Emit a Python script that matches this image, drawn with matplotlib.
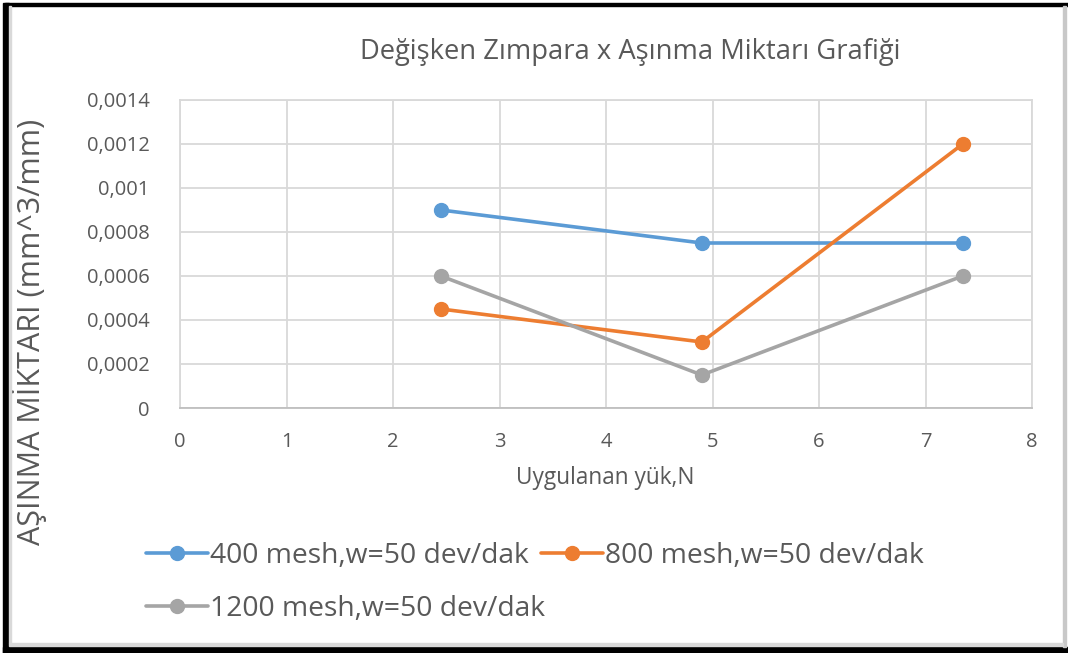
import matplotlib
matplotlib.use("Agg")
import matplotlib.pyplot as plt
from matplotlib.patches import Rectangle
from matplotlib.ticker import FuncFormatter

plt.rcParams['font.family'] = ['Open Sans', 'DejaVu Sans']

x_load = [2.45, 4.9, 7.35]
s400 = [0.0009, 0.00075, 0.00075]
s800 = [0.00045, 0.0003, 0.0012]
s1200 = [0.0006, 0.00015, 0.0006]
labels = ["400 mesh,w=50 dev/dak", "800 mesh,w=50 dev/dak", "1200 mesh,w=50 dev/dak"]
colors = ["#5B9BD5", "#ED7D31", "#A5A5A5"]
yticks = [0, 0.0002, 0.0004, 0.0006, 0.0008, 0.001, 0.0012, 0.0014]
xticks = list(range(0, 9))

W, H = 1068, 653
fig = plt.figure(figsize=(W / 100, H / 100), dpi=100)
ax = fig.add_axes([180 / W, 1 - 408 / H, (1032 - 180) / W, (408 - 100) / H])

txt = "#595959"
grid = "#D9D9D9"
for vals, lab, c in zip([s400, s800, s1200], labels, colors):
    ax.plot(x_load, vals, color=c, lw=2.6, marker='o', ms=10, label=lab,
            solid_capstyle='round', zorder=3)


def fmt(v, p):
    if v == 0:
        return "0"
    return ("%.4f" % v).rstrip('0').replace('.', ',')


ax.set_xlim(0, 8)
ax.set_ylim(0, 0.0014)
ax.set_xticks(xticks)
ax.set_yticks(yticks)
ax.yaxis.set_major_formatter(FuncFormatter(fmt))
ax.grid(True, color=grid, lw=1.3)
ax.set_axisbelow(True)
for s in ax.spines.values():
    s.set_color(grid)
    s.set_linewidth(1.3)
ax.spines['bottom'].set_color("#BFBFBF")
ax.tick_params(length=0, labelsize=14.5, colors=txt)
ax.tick_params(axis='y', pad=22)
ax.tick_params(axis='x', pad=17)

fig.text(630 / W, 1 - 52 / H, "Değişken Zımpara x Aşınma Miktarı Grafiği",
         ha='center', va='center', fontsize=19.7, color=txt)
fig.text(605 / W, 1 - 478 / H, "Uygulanan yük,N", ha='center', va='center',
         fontsize=16.3, color=txt)
fig.text(30 / W, 1 - 332 / H, "AŞINMA MİKTARI (mm^3/mm)", ha='center', va='center',
         rotation=90, fontsize=22, color=txt)

handles, labs = ax.get_legend_handles_labels()
leg_kw = dict(frameon=False, fontsize=20.3, labelcolor=txt, handlelength=2.2,
              handletextpad=0.05, borderpad=0, markerscale=1.0)
fig.legend([handles[0], handles[1]], [labs[0], labs[1]], loc='center left',
           bbox_to_anchor=(132 / W, 1 - 556 / H), ncol=2, columnspacing=0.45, **leg_kw)
fig.legend([handles[2]], [labs[2]], loc='center left',
           bbox_to_anchor=(132 / W, 1 - 609 / H), **leg_kw)


def rect(x0, y0, w, h, c):
    fig.patches.append(Rectangle((x0 / W, 1 - (y0 + h) / H), w / W, h / H,
                                 transform=fig.transFigure, color=c, zorder=10))


rect(5, 3, 1063, 3, "black")
rect(3, 3, 6, 650, "black")
rect(3, 647, 1065, 6, "black")
rect(1063, 6, 3, 641, "#C8C8C8")
rect(9, 643, 1054, 3, "#D9D9D9")
rect(9, 6, 2, 637, "#D9D9D9")

fig.savefig("out.png", dpi=100)
